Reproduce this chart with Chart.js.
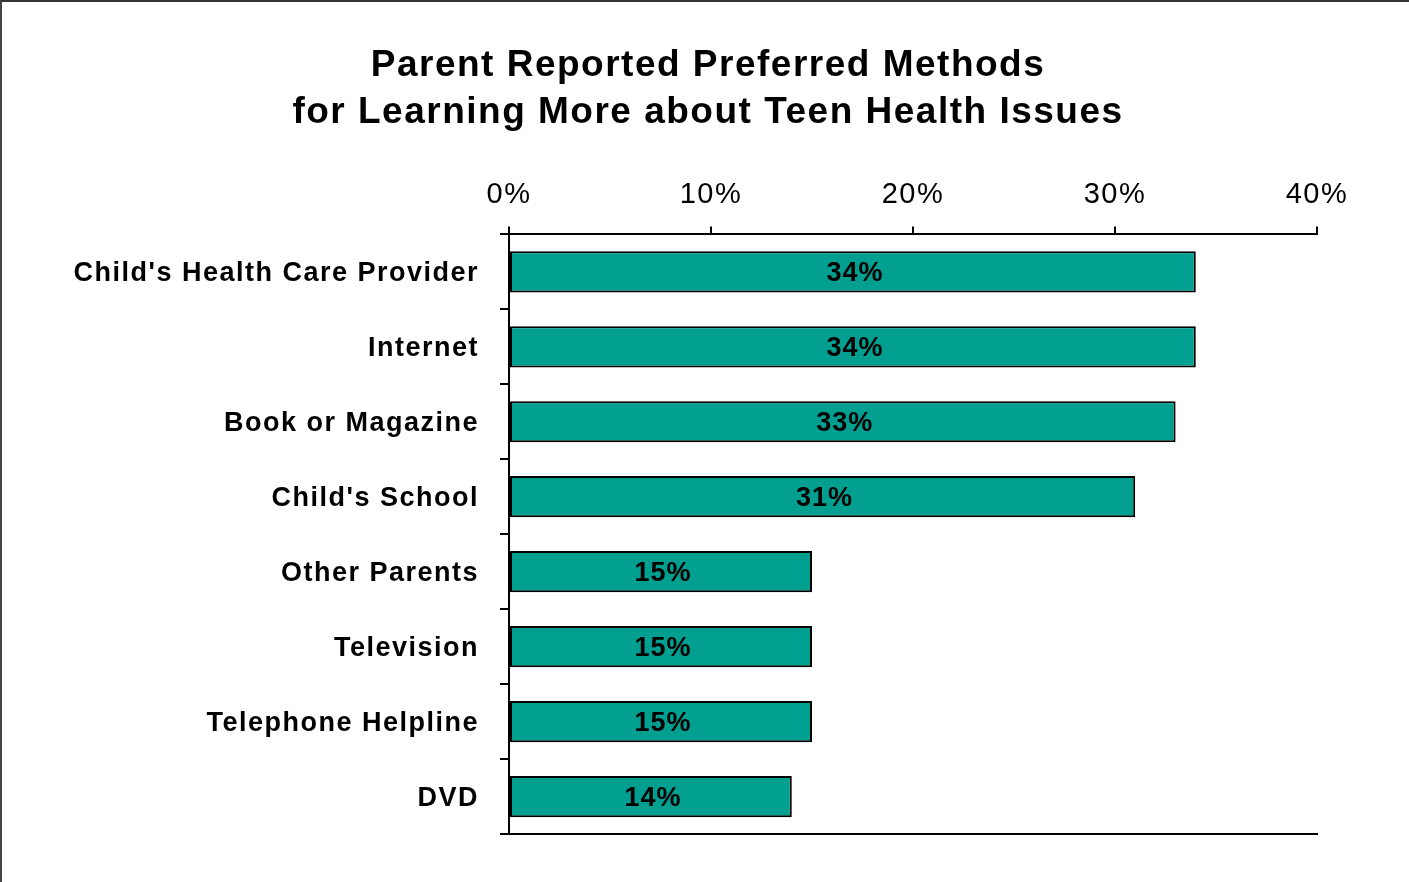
<!DOCTYPE html>
<html>
<head>
<meta charset="utf-8">
<script src="https://cdn.jsdelivr.net/npm/chart.js@4"></script>
<style>
    html, body { margin: 0; padding: 0; background: #fff; }
    #wrap {
        position: relative;
        width: 1409px;
        height: 882px;
        box-sizing: border-box;
        border-top: 2px solid #333;
        border-left: 2px solid #444;
    }
    #chart-box { position: absolute; left: -2px; top: -2px; width: 1409px; height: 882px; }
</style>
</head>
<body>
<div id="wrap">
    <div id="chart-box"><canvas id="survey-chart"></canvas></div>
</div>
<script>
const titleLines = ['Parent Reported Preferred Methods', 'for Learning More about Teen Health Issues'];
const categories = [
    "Child's Health Care Provider",
    'Internet',
    'Book or Magazine',
    "Child's School",
    'Other Parents',
    'Television',
    'Telephone Helpline',
    'DVD'
];
const percentValues = [34, 34, 33, 31, 15, 15, 15, 14];
const axisTicks = [0, 10, 20, 30, 40];

const FONT = "'Liberation Sans', Arial, sans-serif";

// Reference text is a little spaced out, so widen all canvas text
const spacingPlugin = {
    id: 'letterSpacing',
    beforeDraw(chart) {
        chart.ctx.letterSpacing = '1.5px';
    },
    afterLayout(chart) {
        // centre the title over the plot rather than the whole canvas
        const t = chart.titleBlock;
        if (t) {
            t.left = 99;
            t.width = t.right - t.left;
        }
    }
};

// Draws the value labels centred inside each bar
const barLabelPlugin = {
    id: 'barLabels',
    afterDatasetsDraw(chart) {
        const ctx = chart.ctx;
        const meta = chart.getDatasetMeta(0);
        ctx.save();
        ctx.letterSpacing = '1px';
        ctx.font = `bold 27px ${FONT}`;
        ctx.fillStyle = '#000';
        ctx.textAlign = 'center';
        ctx.textBaseline = 'middle';
        meta.data.forEach((bar, i) => {
            const { x, y, base } = bar.getProps(['x', 'y', 'base'], true);
            ctx.fillText(`${percentValues[i]}%`, (x + base) / 2 + 2, y + 2);
        });
        ctx.restore();
    }
};

function initializeChart() {
    const ctx = document.getElementById('survey-chart').getContext('2d');
    new Chart(ctx, {
        type: 'bar',
        data: {
            labels: categories,
            datasets: [{
                data: percentValues,
                backgroundColor: '#009F8F',
                borderColor: '#000',
                borderWidth: 2,
                borderSkipped: false,
                categoryPercentage: 1,
                barPercentage: 0.55
            }]
        },
        options: {
            indexAxis: 'y',
            responsive: true,
            maintainAspectRatio: false,
            animation: false,
            layout: {
                padding: { left: 0, right: 92, top: 0, bottom: 48 }
            },
            plugins: {
                legend: { display: false },
                tooltip: { enabled: false },
                title: {
                    display: true,
                    text: titleLines,
                    color: '#000',
                    font: { family: FONT, size: 37, weight: 'bold', lineHeight: 1.27 },
                    padding: { top: 42, bottom: 8 }
                }
            },
            scales: {
                x: {
                    position: 'top',
                    min: 0,
                    max: 40,
                    afterBuildTicks(scale) {
                        scale.ticks = axisTicks.map(v => ({ value: v }));
                    },
                    afterFit(scale) {
                        scale.height = 90.4;
                    },
                    ticks: {
                        color: '#000',
                        padding: 14,
                        font: { family: FONT, size: 29 },
                        callback: v => `${v}%`
                    },
                    grid: {
                        drawOnChartArea: false,
                        drawTicks: true,
                        tickLength: 8,
                        color: '#000',
                        lineWidth: 2
                    },
                    border: { display: true, color: '#000', width: 2 }
                },
                xBottom: {
                    type: 'linear',
                    position: 'bottom',
                    min: 0,
                    max: 40,
                    afterFit(scale) {
                        scale.height = 0;
                    },
                    ticks: { display: false },
                    grid: { display: false },
                    border: { display: true, color: '#000', width: 2 }
                },
                y: {
                    afterFit(scale) {
                        scale.width = 509;
                    },
                    ticks: {
                        color: '#000',
                        padding: 21,
                        labelOffset: 2,
                        font: { family: FONT, size: 27, weight: 'bold' }
                    },
                    grid: {
                        offset: true,
                        drawOnChartArea: false,
                        drawTicks: true,
                        tickLength: 9,
                        color: '#000',
                        lineWidth: 2
                    },
                    border: { display: true, color: '#000', width: 2 }
                }
            }
        },
        plugins: [spacingPlugin, barLabelPlugin]
    });
}

document.addEventListener('DOMContentLoaded', initializeChart);
</script>
</body>
</html>
